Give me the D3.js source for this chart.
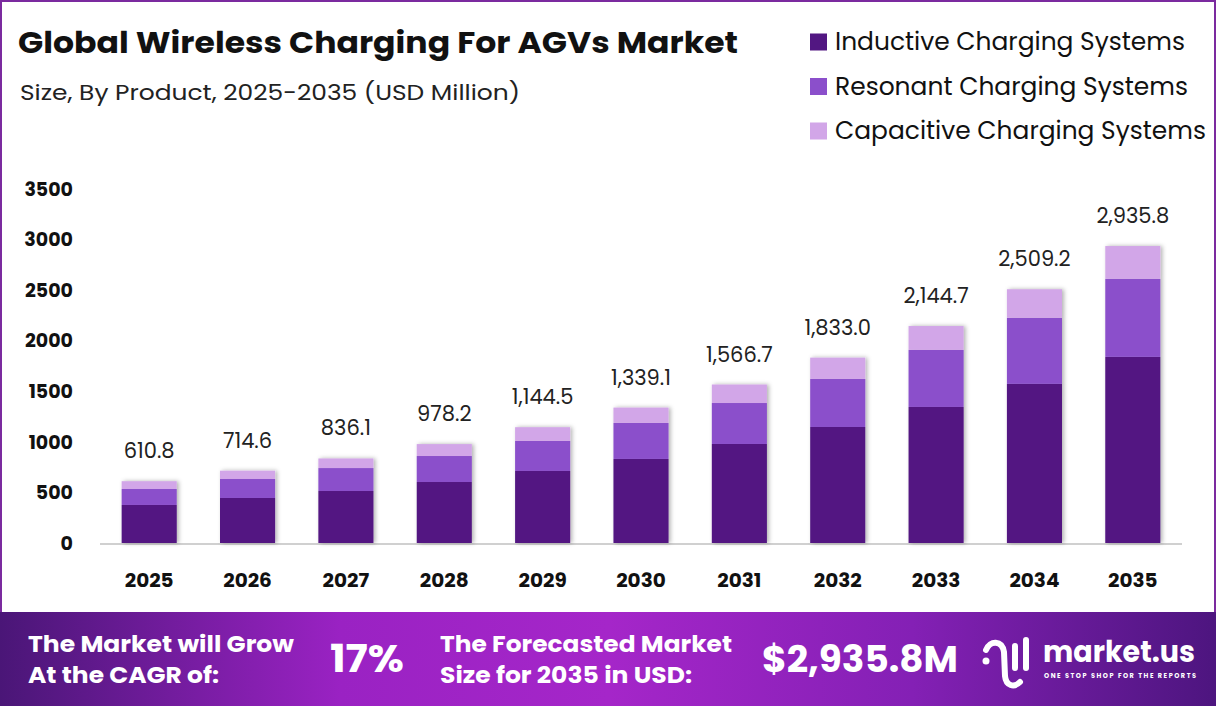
<!DOCTYPE html>
<html>
<head>
<meta charset="utf-8">
<script src="https://cdn.jsdelivr.net/npm/d3@7"></script>
<style>
  body { margin: 0; background: #fff; }
  svg { display: block; font-family: "Poppins", "Inter", "Noto Sans", sans-serif; }
</style>
</head>
<body>
<script>
var years = ["2025", "2026", "2027", "2028", "2029", "2030", "2031", "2032", "2033", "2034", "2035"];
var totals = [610.8, 714.6, 836.1, 978.2, 1144.5, 1339.1, 1566.7, 1833.0, 2144.7, 2509.2, 2935.8];
var inductive = [376, 445, 514, 603, 712, 831, 979, 1147, 1345, 1573, 1840];
var resonant = [158, 188, 227, 257, 297, 356, 405, 475, 564, 653, 771];
var capacitive = [77, 82, 95, 118, 136, 152, 183, 211, 236, 283, 325];
var yTicks = [0, 500, 1000, 1500, 2000, 2500, 3000, 3500];
var seriesNames = ["Inductive Charging Systems", "Resonant Charging Systems", "Capacitive Charging Systems"];
var seriesColors = ["#521782", "#8b4fcb", "#d2a6e8"];
var legendLens = [350, 353, 371];

var width = 1216, height = 706;

var svg = d3.select("body").append("svg")
    .attr("width", width)
    .attr("height", height);

var defs = svg.append("defs");
var grad = defs.append("linearGradient").attr("id", "footgrad");
grad.append("stop").attr("offset", "0%").attr("stop-color", "#4a1677");
grad.append("stop").attr("offset", "28%").attr("stop-color", "#9a22c3");
grad.append("stop").attr("offset", "50%").attr("stop-color", "#a526c9");
grad.append("stop").attr("offset", "75%").attr("stop-color", "#8420b5");
grad.append("stop").attr("offset", "100%").attr("stop-color", "#4d157f");

var shadow = defs.append("filter").attr("id", "shadow")
    .attr("x", "-20%").attr("y", "-5%").attr("width", "140%").attr("height", "110%");
shadow.append("feDropShadow").attr("dx", 2).attr("dy", 0).attr("stdDeviation", 2)
    .attr("flood-color", "#000").attr("flood-opacity", 0.3);

// frame
svg.append("rect").attr("x", 1).attr("y", 1).attr("width", width - 2).attr("height", 612)
    .attr("fill", "#fff").attr("stroke", "#7b2a9f").attr("stroke-width", 2);

// title
svg.append("text").attr("x", 18).attr("y", 53)
    .attr("font-size", 30).attr("font-weight", 700).attr("fill", "#111")
    .attr("textLength", 720).attr("lengthAdjust", "spacingAndGlyphs")
    .text("Global Wireless Charging For AGVs Market");
svg.append("text").attr("x", 20).attr("y", 100)
    .attr("font-size", 22).attr("fill", "#222")
    .attr("textLength", 500).attr("lengthAdjust", "spacingAndGlyphs")
    .text("Size, By Product, 2025-2035 (USD Million)");

// legend
var legend = svg.append("g").selectAll("g").data(seriesNames).enter().append("g")
    .attr("transform", function(d, i) { return "translate(810," + (42 + i * 44.5) + ")"; });
legend.append("rect").attr("x", 0).attr("y", -8.5).attr("width", 17).attr("height", 17)
    .attr("fill", function(d, i) { return seriesColors[i]; });
legend.append("text").attr("x", 25).attr("y", 8)
    .attr("font-size", 24).attr("fill", "#111")
    .attr("textLength", function(d, i) { return legendLens[i]; })
    .attr("lengthAdjust", "spacingAndGlyphs")
    .text(function(d) { return d; });

// scales
var x = d3.scaleBand().domain(years).range([100, 1182]).paddingInner(0.44).paddingOuter(0.22);
var y = d3.scaleLinear().domain([0, 3500]).range([543, 189]);

// y tick labels
svg.append("g").selectAll("text").data(yTicks).enter().append("text")
    .attr("x", 73).attr("y", function(d) { return y(d); })
    .attr("dy", "0.35em").attr("text-anchor", "end")
    .attr("font-size", 19).attr("font-weight", 700).attr("fill", "#111")
    .text(function(d) { return d; });

// baseline
svg.append("line").attr("x1", 100).attr("x2", 1182).attr("y1", 544).attr("y2", 544)
    .attr("stroke", "#d0d0d0").attr("stroke-width", 2);

// stacked bars
var rows = years.map(function(yr, i) {
  return { year: yr, inductive: inductive[i], resonant: resonant[i], capacitive: capacitive[i] };
});
var stack = d3.stack().keys(["inductive", "resonant", "capacitive"])(rows);

var barG = svg.append("g").attr("filter", "url(#shadow)");
barG.selectAll("g").data(stack).enter().append("g")
    .attr("fill", function(d, i) { return seriesColors[i]; })
  .selectAll("rect").data(function(d) { return d; }).enter().append("rect")
    .attr("x", function(d) { return x(d.data.year); })
    .attr("width", x.bandwidth())
    .attr("y", function(d) { return y(d[1]); })
    .attr("height", function(d) { return y(d[0]) - y(d[1]); });

// totals
svg.append("g").selectAll("text").data(years).enter().append("text")
    .attr("x", function(d) { return x(d) + x.bandwidth() / 2; })
    .attr("y", function(d, i) { return y(totals[i]) - 23; })
    .attr("text-anchor", "middle")
    .attr("font-size", 21).attr("fill", "#222")
    .text(function(d, i) { return d3.format(",.1f")(totals[i]); });

// x labels
svg.append("g").selectAll("text").data(years).enter().append("text")
    .attr("x", function(d) { return x(d) + x.bandwidth() / 2; })
    .attr("y", 587)
    .attr("text-anchor", "middle")
    .attr("font-size", 20).attr("font-weight", 700).attr("fill", "#111")
    .text(function(d) { return d; });

// footer
var foot = svg.append("g");
foot.append("rect").attr("x", 0).attr("y", 612).attr("width", width).attr("height", 94)
    .attr("fill", "url(#footgrad)");

function footText(tx, ty, size, str, len) {
  var t = foot.append("text").attr("x", tx).attr("y", ty)
      .attr("font-size", size).attr("font-weight", 700).attr("fill", "#fff").text(str);
  if (len) t.attr("textLength", len).attr("lengthAdjust", "spacingAndGlyphs");
  return t;
}
footText(28, 652, 23, "The Market will Grow", 266);
footText(28, 683, 23, "At the CAGR of:", 191);
footText(330, 672, 38, "17%", 74);
footText(440, 652, 23, "The Forecasted Market", 292);
footText(440, 683, 23, "Size for 2035 in USD:", 252);
footText(762, 672, 36, "$2,935.8M", 196);

// logo
var logo = foot.append("g").attr("fill", "none").attr("stroke", "#fff")
    .attr("stroke-linecap", "round").attr("stroke-width", 6);
logo.append("circle").attr("cx", 986).attr("cy", 661).attr("r", 3.5).attr("fill", "#fff").attr("stroke", "none");
logo.append("path").attr("d", "M986,650 C990,640 1002,640 1004,652 L1005,676 C1006,686 1014,688 1020,682");
logo.append("line").attr("x1", 1015).attr("y1", 646).attr("x2", 1015).attr("y2", 668);
logo.append("line").attr("x1", 1026).attr("y1", 640).attr("x2", 1026).attr("y2", 668);
foot.append("text").attr("x", 1043).attr("y", 662)
    .attr("font-size", 29).attr("font-weight", 700).attr("fill", "#fff")
    .attr("textLength", 152).attr("lengthAdjust", "spacingAndGlyphs")
    .text("market.us");
foot.append("text").attr("x", 1044).attr("y", 678)
    .attr("font-size", 6.5).attr("font-weight", 700).attr("fill", "#fff")
    .attr("textLength", 152).attr("lengthAdjust", "spacing")
    .text("ONE STOP SHOP FOR THE REPORTS");
</script>
</body>
</html>
